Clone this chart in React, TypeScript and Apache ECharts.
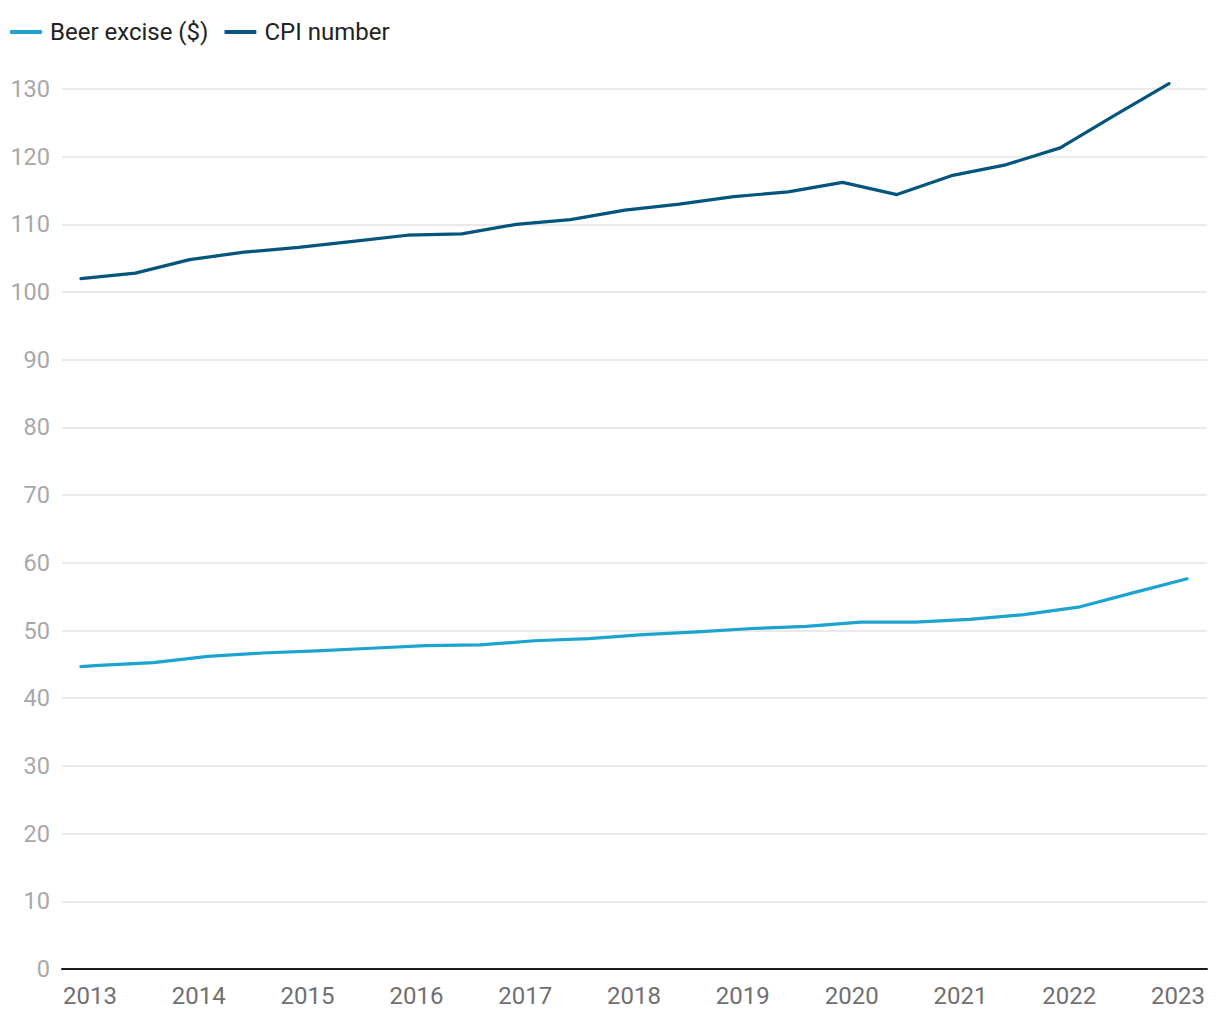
import React, { useEffect, useRef } from "react";
import * as echarts from "echarts";

// CPI (half-yearly, Dec and Jun quarters)
const cpiDates = [
  "2012-12", "2013-06", "2013-12", "2014-06", "2014-12", "2015-06", "2015-12",
  "2016-06", "2016-12", "2017-06", "2017-12", "2018-06", "2018-12", "2019-06",
  "2019-12", "2020-06", "2020-12", "2021-06", "2021-12", "2022-06", "2022-12",
];
const cpiValues = [
  102.0, 102.8, 104.8, 105.9, 106.6, 107.5, 108.4, 108.6, 110.0, 110.7, 112.1,
  113.0, 114.1, 114.8, 116.2, 114.4, 117.2, 118.8, 121.3, 126.1, 130.8,
];

// Beer excise ($), indexed in February and August
const beerDates = [
  "2012-12", "2013-02", "2013-08", "2014-02", "2014-08", "2015-02", "2015-08",
  "2016-02", "2016-08", "2017-02", "2017-08", "2018-02", "2018-08", "2019-02",
  "2019-08", "2020-02", "2020-08", "2021-02", "2021-08", "2022-02", "2022-08",
  "2023-02",
];
const beerValues = [
  44.66, 44.86, 45.25, 46.18, 46.68, 46.99, 47.38, 47.78, 47.87, 48.49, 48.8,
  49.41, 49.81, 50.3, 50.61, 51.23, 51.23, 51.64, 52.35, 53.45, 55.57, 57.64,
];

const yearTicks = [2013, 2014, 2015, 2016, 2017, 2018, 2019, 2020, 2021, 2022, 2023];
const yTickMax = 130;
const yTickStep = 10;

const seriesNames = ["Beer excise ($)", "CPI number"];
const seriesColors = ["#1ca3d0", "#04557d"];

const toYear = (d: string) => {
  const [y, m] = d.split("-").map(Number);
  return y + (m - 1) / 12;
};

export default function App() {
  const ref = useRef<HTMLDivElement>(null);
  useEffect(() => {
    if (!ref.current) return;
    const chart = echarts.init(ref.current, undefined, { renderer: "svg" });
    const xMin = yearTicks[0] - 0.257;
    const xMax = yearTicks[yearTicks.length - 1] + 0.266;
    const mkLine = (name: string, color: string, dates: string[], vals: number[]) => ({
      name,
      type: "line",
      data: dates.map((d, i) => [toYear(d), vals[i]]),
      symbol: "none",
      showSymbol: false,
      clip: false,
      lineStyle: { width: 3.2, color, cap: "round", join: "round" },
      itemStyle: { color },
      emphasis: { disabled: true },
    });
    chart.setOption({
      animation: false,
      backgroundColor: "#ffffff",
      textStyle: { fontFamily: "Roboto" },
      legend: {
        left: 5,
        top: 15,
        icon: "roundRect",
        itemWidth: 32,
        itemHeight: 4,
        itemGap: 16,
        textStyle: { fontSize: 24, color: "#222222", padding: [0, 0, 0, 3], fontFamily: "Roboto" },
        data: seriesNames,
      },
      grid: { left: 62, right: 13, top: 89, bottom: 51, containLabel: false, outerBoundsMode: "none" },
      xAxis: {
        type: "value",
        min: xMin,
        max: xMax,
        axisLine: { show: true, lineStyle: { color: "#1a1a1a", width: 2 } },
        axisTick: { show: false },
        splitLine: { show: false },
        axisLabel: {
          customValues: yearTicks,
          formatter: (v: number) => String(Math.round(v)),
          color: "#707070",
          fontSize: 24,
          margin: 15,
          fontFamily: "Roboto",
        },
      },
      yAxis: {
        type: "value",
        min: 0,
        max: yTickMax,
        interval: yTickStep,
        axisLine: { show: false },
        axisTick: { show: false },
        axisLabel: { color: "#a8a8a8", fontSize: 23.5, margin: 12, fontFamily: "Roboto" },
        splitLine: { lineStyle: { color: "#e3e3e3", width: 1.5 } },
      },
      series: [
        mkLine(seriesNames[0], seriesColors[0], beerDates, beerValues),
        mkLine(seriesNames[1], seriesColors[1], cpiDates, cpiValues),
      ],
    });
    return () => chart.dispose();
  }, []);
  return (
    <div
      ref={ref}
      style={{ position: "fixed", left: 0, top: 0, width: 1220, height: 1020, background: "#fff" }}
    />
  );
}
